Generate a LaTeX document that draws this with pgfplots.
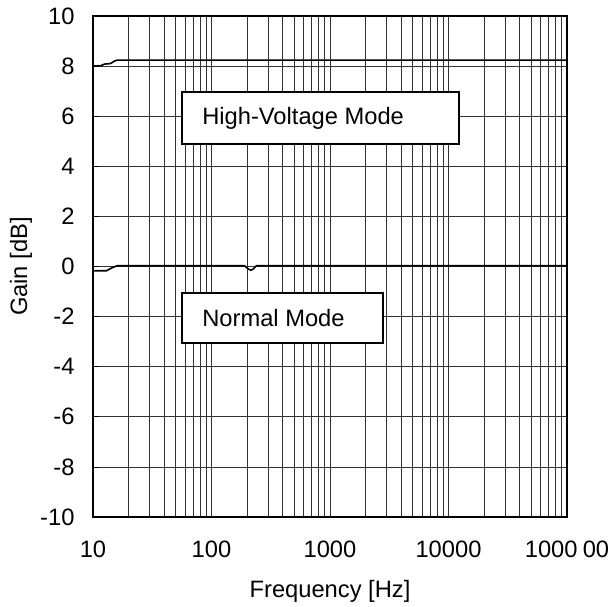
\documentclass[border=0pt]{standalone}
\usepackage{fontspec}
\setmainfont{Liberation Sans}
\usepackage{pgfplots}
\pgfplotsset{compat=1.18}
\begin{document}
\begin{tikzpicture}[font=\fontsize{23.8}{28}\selectfont]
\begin{axis}[
    scale only axis,
    width=474bp,
    height=501bp,
    xmode=log,
    log basis x=10,
    xmin=10, xmax=100000,
    ymin=-10, ymax=10,
    xtick={10,100,1000,10000,100000},
    xticklabels={10,100,1000,10000,1000\hspace{0.22em}00},
    minor xtick={20,30,40,50,60,70,80,90,200,300,400,500,600,700,800,900,
                 2000,3000,4000,5000,6000,7000,8000,9000,
                 20000,30000,40000,50000,60000,70000,80000,90000},
    ytick={-10,-8,-6,-4,-2,0,2,4,6,8,10},
    yticklabels={-10,-8,-6,-4,-2,0,2,4,6,8,10},
    grid=both,
    major grid style={black!80, line width=0.7bp},
    minor grid style={black!80, line width=0.7bp},
    axis line style={black, line width=2.2bp},
    tick style={black, line width=0.8bp},
    major tick length=6bp,
    minor tick length=0pt,
    xtick style={draw=none},
    ytick pos=left,
    tick align=inside,
    xticklabel style={font=\fontsize{23.8}{28}\selectfont, yshift=-20bp},
    yticklabel style={font=\fontsize{23.8}{28}\selectfont, xshift=-15bp},
    xlabel={Frequency [Hz]},
    ylabel={Gain [dB]},
    label style={font=\fontsize{23.8}{28}\selectfont},
    xlabel style={at={(axis description cs:0.5,0)}, anchor=base, yshift=-80bp},
    ylabel style={at={(axis description cs:-0.152,0.5)}, anchor=center},
    clip=false,
]
% High-Voltage Mode
\addplot[black, line width=1.6bp] coordinates {
    (10,8.0) (11.7,8.02) (12.5,8.08) (14.0,8.1) (15.2,8.2) (16,8.24)
    (100,8.24) (1000,8.24) (10000,8.24) (100000,8.24)
};
% Normal Mode
\addplot[black, line width=1.6bp] coordinates {
    (10,-0.17) (13,-0.17) (14.5,-0.05) (16,0.03) (100,0.03) (190,0.03)
    (205,-0.1) (215,-0.15) (225,-0.1) (240,0.03) (1000,0.03) (10000,0.03) (100000,0.03)
};
\draw[line width=1.8bp, fill=white] (axis cs:56.5,4.9) rectangle (axis cs:12200,6.95);
\node[anchor=west, inner sep=0pt] at (axis cs:56.5,5.92) {\hspace{20bp}High-Voltage Mode};
\draw[line width=1.8bp, fill=white] (axis cs:56.5,-1.05) rectangle (axis cs:2800,-3.05);
\node[anchor=west, inner sep=0pt] at (axis cs:56.5,-2.05) {\hspace{20bp}Normal Mode};
\end{axis}
\pgfresetboundingbox
\path (current axis.south west) ++(-93bp,-90bp) coordinate (bbA);
\path (current axis.north east) ++(44bp,16bp) coordinate (bbB);
\path[use as bounding box] (bbA) rectangle (bbB);
\end{tikzpicture}
\end{document}
